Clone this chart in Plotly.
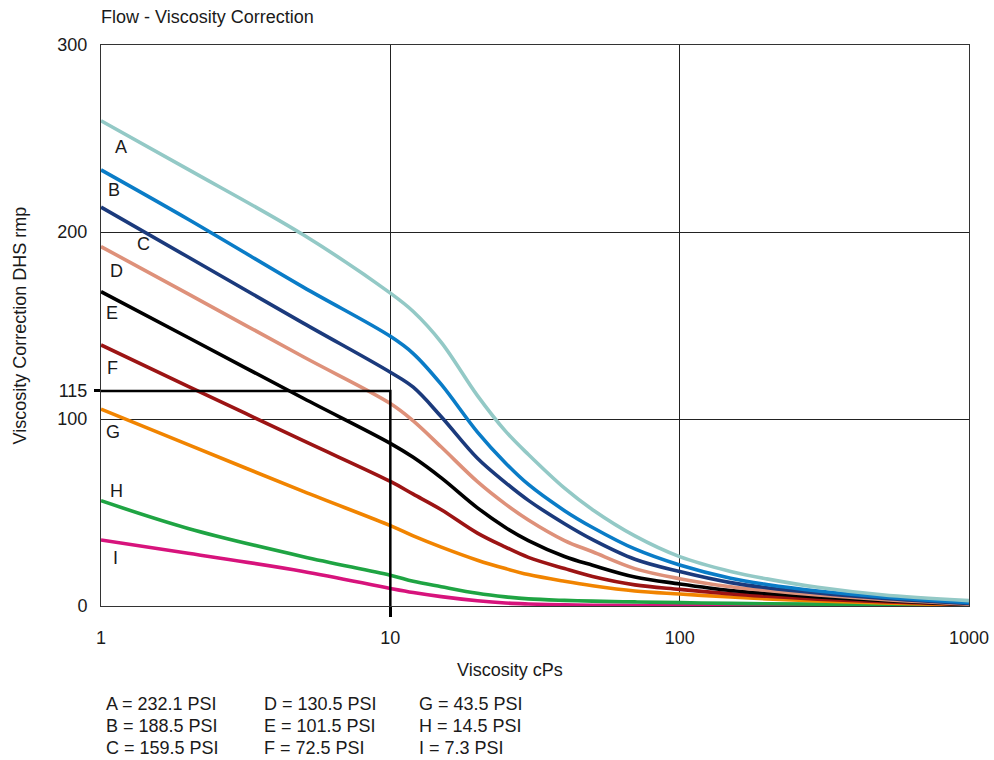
import plotly.graph_objects as go

# ---------------- data ----------------
viscosity = [1, 2, 5, 10, 12, 15, 20, 25, 30, 40, 50, 70, 100, 150, 200, 300, 500, 1000]

curve_A = [259.5, 233.5, 198.5, 167.3, 157.5, 141.0, 112.5, 93.5, 81.0, 63.0, 51.5, 37.5, 26.4, 18.5, 14.5, 10.0, 6.0, 2.9]
curve_B = [233.2, 206.8, 170.5, 144.2, 135.0, 118.5, 93.0, 76.5, 65.0, 51.0, 42.0, 30.5, 21.9, 14.8, 11.5, 8.0, 4.8, 1.8]
curve_C = [213.3, 186.6, 151.3, 125.0, 117.0, 101.2, 79.0, 66.0, 56.5, 44.0, 35.5, 25.0, 18.4, 12.5, 9.8, 7.0, 4.2, 1.3]
curve_D = [192.2, 166.9, 133.3, 108.3, 99.0, 85.0, 66.5, 54.5, 46.0, 35.0, 29.0, 20.0, 14.6, 10.3, 8.3, 5.9, 3.5, 1.0]
curve_E = [168.1, 143.6, 111.1, 87.0, 79.5, 68.5, 52.5, 42.0, 35.0, 26.5, 21.8, 15.5, 11.8, 8.3, 6.7, 4.8, 3.0, 0.8]
curve_F = [139.6, 117.5, 88.4, 66.6, 59.8, 51.5, 39.0, 31.5, 26.0, 20.0, 15.8, 11.3, 8.9, 6.5, 5.2, 3.7, 2.3, 0.8]
curve_G = [105.3, 86.3, 61.3, 43.0, 37.5, 31.5, 24.5, 20.0, 16.8, 13.2, 10.8, 8.0, 6.4, 4.8, 3.8, 2.7, 1.6, 0.5]
curve_H = [56.3, 41.5, 26.4, 16.5, 13.2, 10.3, 6.8, 4.9, 3.8, 3.0, 2.6, 2.2, 1.8, 1.4, 1.2, 1.0, 0.9, 0.8]
curve_I = [35.3, 28.2, 18.5, 9.4, 7.2, 5.0, 2.8, 1.6, 1.1, 0.6, 0.4, 0.3, 0.3, 0.25, 0.2, 0.2, 0.2, 0.2]

curve_names = ["A", "B", "C", "D", "E", "F", "G", "H", "I"]
pressures = ["232.1", "188.5", "159.5", "130.5", "101.5", "72.5", "43.5", "14.5", "7.3"]

x_tick_vals = [1, 10, 100, 1000]
x_tick_text = ["1", "10", "100", "1000"]
y_tick_vals = [0, 100, 200, 300]
y_tick_text = ["0", "100", "200", "300"]

ref_viscosity = 10
ref_correction = 115

# ---------------- styles ----------------
colors = {
    "A": "#93c9c6", "B": "#0a7cc7", "C": "#1b3a7c", "D": "#de917a", "E": "#000000",
    "F": "#9c1414", "G": "#f18400", "H": "#1fa443", "I": "#d7137c",
}
# label placement (log10(x), y) in data space
label_pos = {
    "A": (0.069, 245.6), "B": (0.046, 222.5), "C": (0.146, 193.6), "D": (0.054, 179.3),
    "E": (0.039, 156.5), "F": (0.039, 127.1), "G": (0.040, 93.2), "H": (0.052, 61.7),
    "I": (0.049, 25.5),
}
FONT = "Arial, Liberation Sans, Helvetica, sans-serif"
TXT = "#1a1a1a"
FS = 18

# figure geometry
W, H = 994, 760
ML, MR, MT, MB = 101, 25, 45, 154
PW, PH = W - ML - MR, H - MT - MB


def px_x(page_x):
    return (page_x - ML) / PW


def px_y(page_y):
    return (H - MB - page_y) / PH


curves = dict(zip(curve_names, [curve_A, curve_B, curve_C, curve_D, curve_E,
                                curve_F, curve_G, curve_H, curve_I]))

fig = go.Figure()
for name in reversed(curve_names):
    fig.add_trace(go.Scatter(
        x=viscosity, y=curves[name], mode="lines", name=name,
        line=dict(color=colors[name], width=3.6, shape="spline", smoothing=1.0),
        hoverinfo="skip", showlegend=False,
    ))

# reference line 115 @ 10 cP (on overlay axes so it is drawn on top)
fig.add_trace(go.Scatter(
    x=[1, ref_viscosity, ref_viscosity], y=[ref_correction, ref_correction, 0],
    mode="lines", line=dict(color="black", width=2.5),
    xaxis="x2", yaxis="y2", hoverinfo="skip", showlegend=False,
))

annotations = []
for name in curve_names:
    lx, ly = label_pos[name]
    annotations.append(dict(x=lx, y=ly, xref="x", yref="y", text=name, showarrow=False,
                            font=dict(family=FONT, size=FS, color=TXT)))

# pressure key beneath chart: 3 columns x 3 rows
col_x = [104, 262, 417]
row_y = [704, 726, 748]
for i, (name, p) in enumerate(zip(curve_names, pressures)):
    c, r = divmod(i, 3)
    annotations.append(dict(
        x=px_x(col_x[c]), y=px_y(row_y[r]), xref="paper", yref="paper",
        text=f"{name} = {p} PSI", showarrow=False, xanchor="left", yanchor="middle",
        font=dict(family=FONT, size=FS, color=TXT)))

# axis titles
annotations.append(dict(x=px_x(510), y=px_y(670), xref="paper", yref="paper",
                        text="Viscosity cPs", showarrow=False, xanchor="center", yanchor="middle",
                        font=dict(family=FONT, size=FS, color=TXT)))
annotations.append(dict(x=px_x(19), y=0.5, xref="paper", yref="paper",
                        text="Viscosity Correction DHS rmp", showarrow=False, textangle=-90,
                        xanchor="center", yanchor="middle",
                        font=dict(family=FONT, size=FS, color=TXT)))

fig.update_layout(
    width=W, height=H,
    margin=dict(l=ML, r=MR, t=MT, b=MB, autoexpand=False),
    paper_bgcolor="white", plot_bgcolor="white",
    title=dict(text="Flow - Viscosity Correction", xref="container", yref="container",
               x=ML / W, xanchor="left", y=1 - 17 / H, yanchor="middle",
               font=dict(family=FONT, size=FS, color=TXT)),
    xaxis=dict(type="log", range=[0, 3], tickvals=x_tick_vals, ticktext=x_tick_text,
               ticks="outside", ticklen=10, tickcolor="rgba(0,0,0,0)", ticklabelstandoff=5,
               showgrid=True, gridcolor="#222", gridwidth=1,
               showline=True, linecolor="#333", linewidth=1, mirror=True, zeroline=False,
               tickfont=dict(family=FONT, size=FS, color=TXT)),
    yaxis=dict(range=[0, 300], tickvals=y_tick_vals, ticktext=y_tick_text,
               ticks="outside", ticklen=6, tickcolor="rgba(0,0,0,0)", ticklabelstandoff=3,
               showgrid=True, gridcolor="#222", gridwidth=1,
               showline=True, linecolor="#333", linewidth=1, mirror=True, zeroline=False,
               tickfont=dict(family=FONT, size=FS, color=TXT)),
    xaxis2=dict(type="log", range=[0, 3], overlaying="x", anchor="y", side="bottom",
                tickvals=[ref_viscosity], ticks="outside", ticklen=10, tickwidth=2.5,
                tickcolor="black", showticklabels=False, showgrid=False, zeroline=False,
                showline=False),
    yaxis2=dict(range=[0, 300], overlaying="y", anchor="x", side="left",
                tickvals=[ref_correction], ticktext=[str(ref_correction)],
                ticks="outside", ticklen=6, tickwidth=2.5, tickcolor="black",
                ticklabelstandoff=3, showgrid=False, zeroline=False, showline=False,
                tickfont=dict(family=FONT, size=FS, color=TXT)),
    annotations=annotations,
)

# remove the browser's default 8px body margin so the figure fills the window exactly
fig.write_html("out.html", config={"displayModeBar": False},
               post_script="document.body.style.margin='0';document.body.style.overflow='hidden';")
